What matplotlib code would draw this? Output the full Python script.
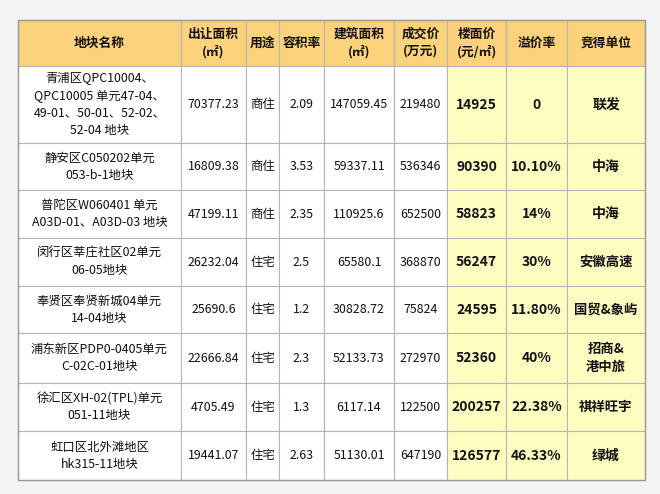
import matplotlib
matplotlib.use("Agg")
import matplotlib.pyplot as plt
from matplotlib.patches import Rectangle

plt.rcParams['font.family'] = ['Noto Sans CJK SC', 'DejaVu Sans']

headers = ["地块名称", "出让面积\n(㎡)", "用途", "容积率", "建筑面积\n(㎡)", "成交价\n(万元)", "楼面价\n(元/㎡)", "溢价率", "竞得单位"]
names = ["青浦区QPC10004、\nQPC10005 单元47-04、\n49-01、50-01、52-02、\n52-04 地块",
         "静安区C050202单元\n053-b-1地块",
         "普陀区W060401 单元\nA03D-01、A03D-03 地块",
         "闵行区莘庄社区02单元\n06-05地块",
         "奉贤区奉贤新城04单元\n14-04地块",
         "浦东新区PDP0-0405单元\nC-02C-01地块",
         "徐汇区XH-02(TPL)单元\n051-11地块",
         "虹口区北外滩地区\nhk315-11地块"]
land_area = ["70377.23", "16809.38", "47199.11", "26232.04", "25690.6", "22666.84", "4705.49", "19441.07"]
usage = ["商住", "商住", "商住", "住宅", "住宅", "住宅", "住宅", "住宅"]
far = ["2.09", "3.53", "2.35", "2.5", "1.2", "2.3", "1.3", "2.63"]
build_area = ["147059.45", "59337.11", "110925.6", "65580.1", "30828.72", "52133.73", "6117.14", "51130.01"]
price = ["219480", "536346", "652500", "368870", "75824", "272970", "122500", "647190"]
floor_price = ["14925", "90390", "58823", "56247", "24595", "52360", "200257", "126577"]
premium = ["0", "10.10%", "14%", "30%", "11.80%", "40%", "22.38%", "46.33%"]
winner = ["联发", "中海", "中海", "安徽高速", "国贸&象屿", "招商&\n港中旅", "祺祥旺宇", "绿城"]

cols = [18, 181, 246, 279, 324, 394, 447, 506, 567, 645]
rows = [20, 66, 143, 190, 238, 286, 333, 383, 431, 480]

fig = plt.figure(figsize=(6.6, 4.94), dpi=100)
fig.patch.set_facecolor('#f3f3f3')
ax = fig.add_axes([0, 0, 1, 1])
ax.set_xlim(0, 660); ax.set_ylim(494, 0); ax.axis('off')

data = list(zip(names, land_area, usage, far, build_area, price, floor_price, premium, winner))
for r in range(len(rows) - 1):
    for c in range(len(cols) - 1):
        x0, x1, y0, y1 = cols[c], cols[c+1], rows[r], rows[r+1]
        if r == 0:
            fc = '#fdd27c'; txt = headers[c]; bold = True; fs = 9.2
        else:
            fc = '#fdfdc2' if c >= 6 else 'white'
            txt = data[r-1][c]; bold = c >= 6
            fs = 10 if bold else 8.9
            if bold and c == 8 and len(txt) > 3:
                fs = 9.6
        ax.add_patch(Rectangle((x0, y0), x1-x0, y1-y0, facecolor=fc, edgecolor='#b5b5b5', lw=0.8))
        ax.text((x0+x1)/2, (y0+y1)/2, txt, ha='center', va='center',
                fontsize=fs, fontweight='bold' if bold else 'normal',
                color='#111111', linespacing=1.4)
ax.add_patch(Rectangle((cols[0], rows[0]), cols[-1]-cols[0], rows[-1]-rows[0], fill=False, edgecolor='#999999', lw=1))
fig.savefig('out.png', dpi=100, facecolor=fig.get_facecolor())
